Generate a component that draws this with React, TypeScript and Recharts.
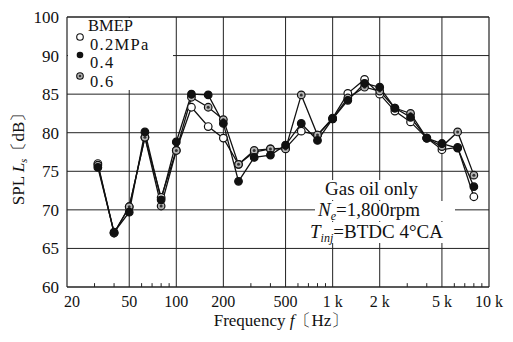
import { LineChart, Line, XAxis, YAxis, CartesianGrid, ReferenceLine } from "recharts";

// 1/3 octave band centre frequencies (Hz)
const freqs = [31.5, 40, 50, 63, 80, 100, 125, 160, 200, 250, 315, 400, 500, 630, 800, 1000, 1250, 1600, 2000, 2500, 3150, 4000, 5000, 6300, 8000];

// SPL Ls (dB) per BMEP
const bmep02 = [76.0, 67.0, 70.4, 79.4, 71.6, 77.7, 83.3, 80.8, 79.3, 75.9, 77.5, 77.9, 78.0, 80.2, 79.7, 81.9, 85.1, 86.9, 85.0, 82.8, 81.4, 79.3, 77.8, 78.1, 71.7];
const bmep04 = [75.5, 67.1, 69.7, 80.1, 71.3, 78.8, 85.0, 84.9, 81.2, 73.7, 76.8, 77.1, 78.4, 81.2, 79.0, 81.8, 84.2, 86.4, 85.9, 83.2, 82.0, 79.3, 78.6, 78.0, 73.0];
const bmep06 = [75.8, 67.0, 70.4, 79.4, 70.5, 77.7, 84.6, 83.3, 81.7, 75.9, 77.7, 77.9, 77.9, 84.9, 79.7, 81.8, 84.5, 85.9, 85.4, 83.2, 82.5, 79.3, 78.2, 80.1, 74.5];

const xTicks = [20, 50, 100, 200, 500, 1000, 2000, 5000, 10000];
const xTickLabels = ["20", "50", "100", "200", "500", "1 k", "2 k", "5 k", "10 k"];
const xGrid = [50, 100, 200, 500, 1000, 2000, 5000];
const xMinor = [30, 40, 60, 70, 80, 90, 300, 400, 600, 700, 800, 900, 3000, 4000, 6000, 7000, 8000, 9000];
// top tick is printed "100" in the original figure
const yTicks = [60, 65, 70, 75, 80, 85, 90, 95];
const yTickLabels = ["60", "65", "70", "75", "80", "85", "90", "100"];

const data = freqs.map((f, i) => ({
  f,
  p02: bmep02[i],
  p04: bmep04[i],
  p06: bmep06[i],
}));

const serif = '"Liberation Serif", "DejaVu Serif", serif';
const ink = "#111";

const WhiteDot = (props: any) => (
  <circle key={props.index} cx={props.cx} cy={props.cy} r={3.8} fill="#fff" stroke={ink} strokeWidth={1.2} />
);
const BlackDot = (props: any) => (
  <circle key={props.index} cx={props.cx} cy={props.cy} r={3.8} fill={ink} stroke={ink} strokeWidth={1.2} />
);
const GreyDot = (props: any) => (
  <g key={props.index}>
    <circle cx={props.cx} cy={props.cy} r={3.8} fill="#b5b5b5" stroke={ink} strokeWidth={1.2} />
    <circle cx={props.cx} cy={props.cy} r={1.5} fill="#333" />
  </g>
);

const XTick = (props: any) => {
  const { x, y, payload } = props;
  const i = xTicks.indexOf(payload.value);
  const dx = i === 0 ? 5 : 0;
  return (
    <text x={x + dx} y={y + 12} textAnchor="middle" fontFamily={serif} fontSize={16} fill={ink}>
      {xTickLabels[i]}
    </text>
  );
};

export default function App() {
  return (
    <div style={{ position: "absolute", left: 0, top: 0, width: 513, height: 342, background: "#fff" }}>
      <LineChart width={513} height={342} data={data} margin={{ top: 17, right: 24, bottom: 0, left: 0 }}>
        <CartesianGrid vertical={false} stroke="#222" strokeWidth={1} />
        {xGrid.map((f) => (
          <ReferenceLine key={f} x={f} stroke="#222" strokeWidth={1} />
        ))}
        {xMinor.map((f) => (
          <ReferenceLine
            key={"m" + f}
            segment={[{ x: f, y: 60 }, { x: f, y: 60.5 }]}
            stroke="#222"
            strokeWidth={1}
          />
        ))}
        <ReferenceLine y={95} stroke="#222" strokeWidth={1.2} />
        <ReferenceLine x={10000} stroke="#222" strokeWidth={1.2} />
        <XAxis
          type="number"
          dataKey="f"
          scale="log"
          domain={[20, 10000]}
          ticks={xTicks}
          allowDataOverflow
          height={55}
          tickLine={false}
          axisLine={{ stroke: "#222", strokeWidth: 1.2 }}
          tick={<XTick />}
          interval={0}
        />
        <YAxis
          type="number"
          domain={[60, 95]}
          ticks={yTicks}
          width={67}
          tickLine={false}
          axisLine={{ stroke: "#222", strokeWidth: 1.2 }}
          tickMargin={2}
          interval={0}
          tickFormatter={(v: number) => yTickLabels[yTicks.indexOf(v)]}
          tick={{ fontFamily: serif, fontSize: 17, fill: ink }}
        />
        <Line dataKey="p02" stroke={ink} strokeWidth={1.3} dot={WhiteDot} isAnimationActive={false} />
        <Line dataKey="p06" stroke={ink} strokeWidth={1.3} dot={GreyDot} isAnimationActive={false} />
        <Line dataKey="p04" stroke={ink} strokeWidth={1.3} dot={BlackDot} isAnimationActive={false} />
      </LineChart>

      <svg
        width={513}
        height={342}
        style={{ position: "absolute", left: 0, top: 0, pointerEvents: "none" }}
        fontFamily={serif}
        fill={ink}
      >
        {/* legend */}
        <rect x={68} y={18} width={105} height={72} fill="#fff" />
        <text x={88} y={31} fontSize={16.5}>BMEP</text>
        <circle cx={80} cy={37} r={3.3} fill="#fff" stroke={ink} strokeWidth={1.1} />
        <text x={90} y={49.5} fontSize={16.5} letterSpacing={1.3}>0.2MPa</text>
        <circle cx={80} cy={55} r={3.3} fill={ink} />
        <text x={90} y={68} fontSize={16.5} letterSpacing={1.3}>0.4</text>
        <circle cx={80} cy={76} r={3.3} fill="#b5b5b5" stroke={ink} strokeWidth={1.1} />
        <circle cx={80} cy={76} r={1.3} fill="#333" />
        <text x={90} y={86.5} fontSize={16.5} letterSpacing={1.3}>0.6</text>

        {/* conditions */}
        <rect x={322} y={180} width={108} height={20} fill="#fff" />
        <text x={325} y={195} fontSize={19}>Gas oil only</text>
        <rect x={315} y={201} width={140} height={20} fill="#fff" />
        <text x={318} y={216} fontSize={19}>
          <tspan fontStyle="italic">N</tspan>
          <tspan fontStyle="italic" fontSize={12} dy={4}>e</tspan>
          <tspan dy={-4}>=1,800rpm</tspan>
        </text>
        <rect x={307} y={222} width={180} height={21} fill="#fff" />
        <text x={310} y={238} fontSize={19}>
          <tspan fontStyle="italic">T</tspan>
          <tspan fontStyle="italic" fontSize={12} dy={4}>inj</tspan>
          <tspan dy={-4}>=BTDC 4°CA</tspan>
        </text>

        {/* axis titles */}
        <text x={281} y={326} fontSize={17} textAnchor="middle">
          Frequency <tspan fontStyle="italic">f</tspan>〔Hz〕
        </text>
        <text x={24} y={155} fontSize={17} textAnchor="middle" transform="rotate(-90 24 155)">
          SPL <tspan fontStyle="italic">L</tspan>
          <tspan fontStyle="italic" fontSize={11} dy={3}>s</tspan>
          <tspan dy={-3}>〔dB〕</tspan>
        </text>
      </svg>
    </div>
  );
}
